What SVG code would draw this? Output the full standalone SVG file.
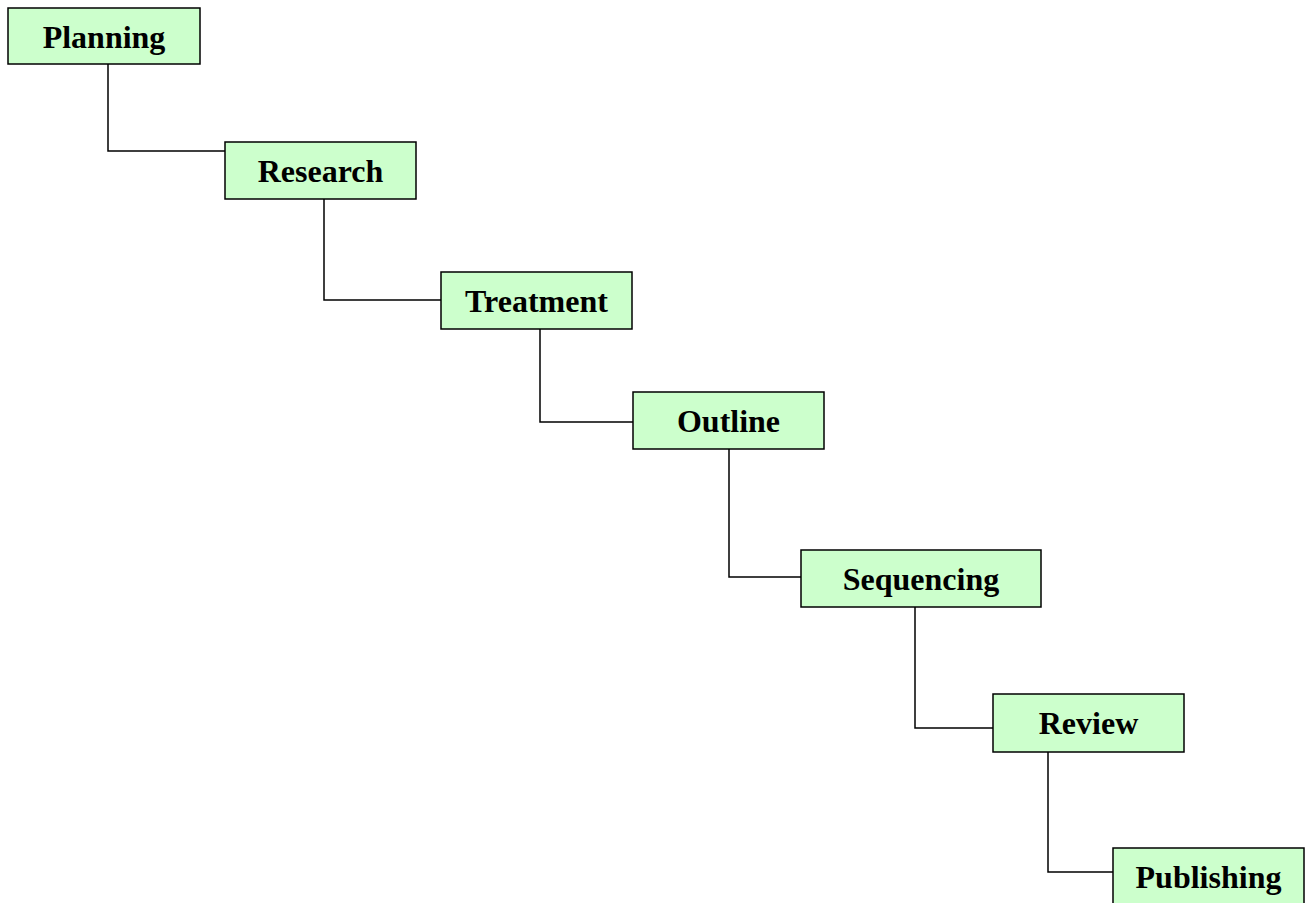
<svg xmlns="http://www.w3.org/2000/svg" width="1305" height="903" viewBox="0 0 1305 903">
<style>
.box{fill:#CCFFCC;stroke:#000;stroke-width:1.5}
.lbl{font-family:"Liberation Serif","Times New Roman",serif;font-weight:bold;font-size:32px;fill:#000;text-anchor:middle}
.con{fill:none;stroke:#000;stroke-width:1.5}
</style>
<rect width="1305" height="903" fill="#fff"/>
<g id="connectors">
<polyline class="con" points="108,64 108,151 225,151"/>
<polyline class="con" points="324,199 324,300 441,300"/>
<polyline class="con" points="540,329 540,422 633,422"/>
<polyline class="con" points="729,449 729,577 801,577"/>
<polyline class="con" points="915,607 915,728 993,728"/>
<polyline class="con" points="1048,752 1048,872 1113,872"/>
</g>
<g id="planning"><rect class="box" x="8" y="8" width="192" height="56"/><text class="lbl" x="104" y="48">Planning</text></g>
<g id="research"><rect class="box" x="225" y="142" width="191" height="57"/><text class="lbl" x="320.5" y="182">Research</text></g>
<g id="treatment"><rect class="box" x="441" y="272" width="191" height="57"/><text class="lbl" x="536.5" y="312">Treatment</text></g>
<g id="outline"><rect class="box" x="633" y="392" width="191" height="57"/><text class="lbl" x="728.5" y="432">Outline</text></g>
<g id="sequencing"><rect class="box" x="801" y="550" width="240" height="57"/><text class="lbl" x="921" y="590">Sequencing</text></g>
<g id="review"><rect class="box" x="993" y="694" width="191" height="58"/><text class="lbl" x="1088.5" y="734">Review</text></g>
<g id="publishing"><rect class="box" x="1113" y="848" width="191" height="58"/><text class="lbl" x="1208.5" y="888">Publishing</text></g>
</svg>
